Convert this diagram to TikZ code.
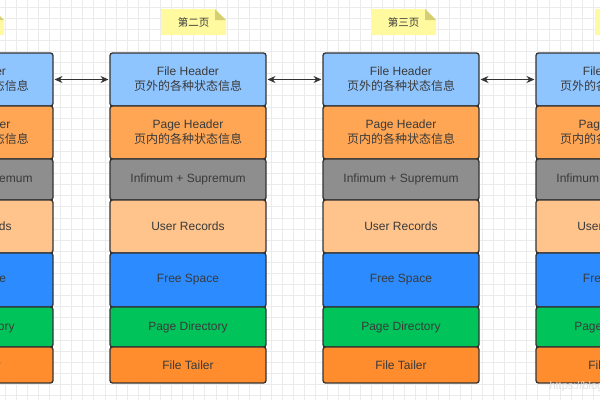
\documentclass[tikz,border=0pt]{standalone}
\usepackage{fontspec}
\setmainfont{Liberation Sans}
\newfontfamily\cjk{Noto Sans CJK SC}
\usetikzlibrary{arrows.meta}

\definecolor{gridgray}{HTML}{EBEBEB}
\definecolor{edge}{HTML}{333333}
\definecolor{txt}{HTML}{3A3A3A}
\definecolor{fhblue}{HTML}{8FC5FF}
\definecolor{phorange}{HTML}{FFA654}
\definecolor{infgray}{HTML}{8E8E8E}
\definecolor{urpeach}{HTML}{FFC48C}
\definecolor{fsblue}{HTML}{2B8BFF}
\definecolor{pdgreen}{HTML}{00C45A}
\definecolor{ftorange}{HTML}{FF8D2E}
\definecolor{noteyellow}{HTML}{FFFAA0}
\definecolor{notefold}{HTML}{D6CE72}

\begin{document}
\begin{tikzpicture}[x=1pt,y=-1pt,
  seg/.style={draw=edge,line width=1.3pt,rounded corners=2.5pt,outer sep=0pt,
    minimum width=156pt,align=center,text=txt,font=\fontsize{12}{15}\selectfont},
  link/.style={<->,>={Stealth[length=8pt,width=7pt]},draw=edge,line width=0.9pt,
    shorten <=1.5pt,shorten >=1.5pt},
  gridline/.style={gridgray,line width=0.8pt},
  notelabel/.style={text=txt,font=\cjk\fontsize{10.5}{12}\selectfont}]
\useasboundingbox (0,0) rectangle (600,400);
\clip (0,0) rectangle (600,400);
% background grid
\foreach \g in {0,...,54}
  \draw[gridline] (5+11.1*\g,0) -- (5+11.1*\g,400);
\foreach \g in {0,...,36}
  \draw[gridline] (0,7+11.1*\g) -- (600,7+11.1*\g);
% notes on top
\foreach \n/\x in {1/-61,2/161,3/371,4/595}{
  \fill[noteyellow] (\x,9) -- ++(54,0) -- ++(11,11) -- (\x+65,35) -- (\x,35) -- cycle;
  \fill[notefold] (\x+54,9) -- (\x+54,20) -- (\x+65,20) -- cycle;
}
\node[notelabel] (nt2) at (193.5,22) {第二页};
\node[notelabel] (nt3) at (403.5,22) {第三页};
% page columns
\foreach \c/\x in {1/-103,2/110,3/323,4/536}{
  \foreach \s/\y/\h/\f/\t in {
      fh/79.5/53/fhblue/{File Header\\{\cjk 页外的各种状态信息}},
      ph/132.5/53/phorange/{Page Header\\{\cjk 页内的各种状态信息}},
      inf/179.5/41/infgray/{Infimum + Supremum},
      ur/226.5/53/urpeach/{User Records},
      fs/280/54/fsblue/{Free Space},
      pd/327/40/pdgreen/{Page Directory},
      ft/365/36/ftorange/{File Tailer}}
    \node[seg,fill=\f,minimum height=\h] (\s\c) at (\x+78,\y) {\t};
}
% links between pages
\foreach \a/\b in {1/2,2/3,3/4}
  \draw[link] (fh\a) -- (fh\b);
\node[anchor=west,text=black!13,font=\fontsize{11}{12}\selectfont] (wm) at (546,387) {https://blog};
\end{tikzpicture}
\end{document}
